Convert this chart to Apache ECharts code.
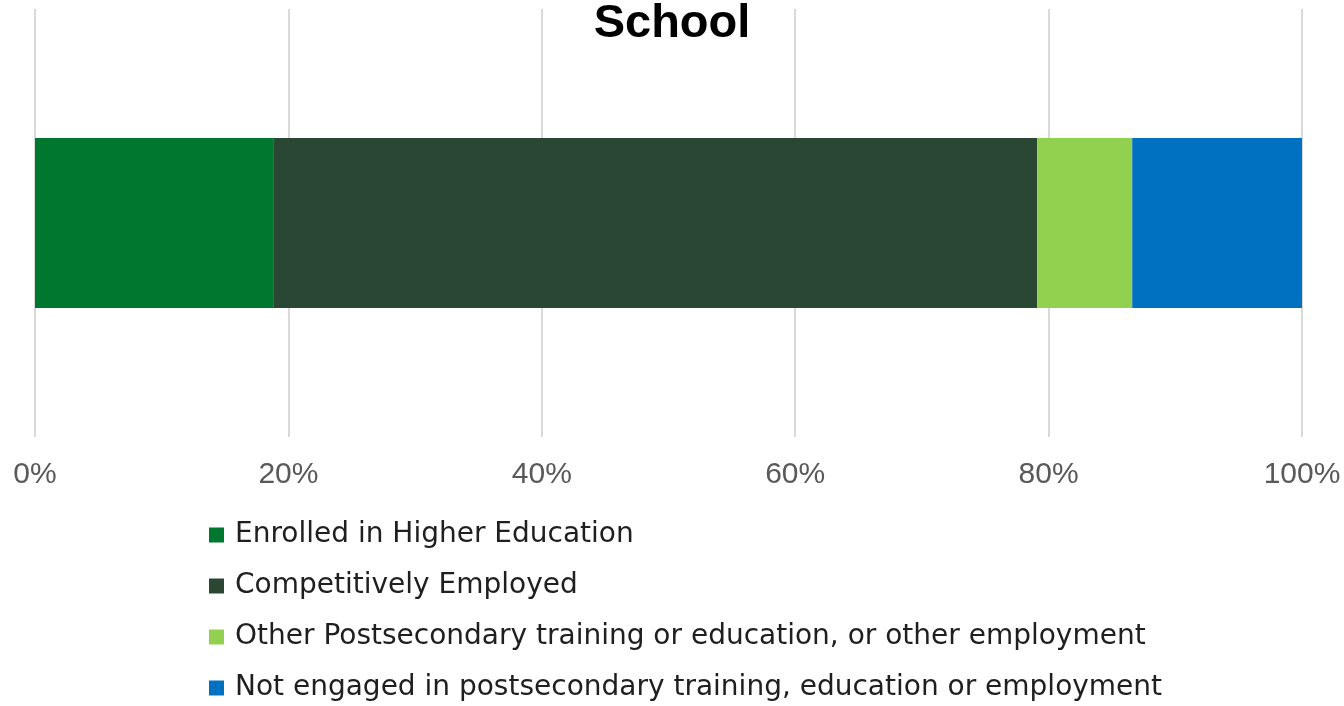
<!DOCTYPE html>
<html>
<head>
<meta charset="utf-8">
<script src="https://cdn.jsdelivr.net/npm/echarts@6/dist/echarts.min.js"></script>
<style>
  html, body { margin: 0; padding: 0; background: #fff; }
  #chart { width: 1344px; height: 706px; }
</style>
</head>
<body>
<div id="chart"></div>
<script>
const categories = ['School'];
const seriesNames = [
  'Enrolled in Higher Education',
  'Competitively Employed',
  'Other Postsecondary training or education, or other employment',
  'Not engaged in postsecondary training, education or employment',
];
const seriesValues = [
  [18.8],
  [60.3],
  [7.5],
  [13.4],
];
const seriesColors = ['#00772F', '#2A4734', '#92D050', '#0070C0'];

const chart = echarts.init(document.getElementById('chart'));

const option = {
  backgroundColor: '#ffffff',
  animation: false,
  title: {
    text: 'School',
    left: 'center',
    top: -4,
    textStyle: {
      fontFamily: 'Liberation Sans, Arial, sans-serif',
      fontSize: 47,
      fontWeight: 'bold',
      color: '#000000',
    },
  },
  legend: {
    orient: 'vertical',
    left: 209,
    top: 520,
    height: 200,
    padding: 0,
    itemWidth: 15,
    itemHeight: 15,
    itemGap: 21,
    icon: 'rect',
    data: seriesNames,
    textStyle: {
      fontFamily: 'DejaVu Sans, sans-serif',
      fontSize: 28,
      lineHeight: 30,
      color: '#1f1f1f',
      padding: [0, 0, 0, 6],
    },
  },
  grid: {
    left: 35,
    right: 42,
    top: 9,
    bottom: 269,
  },
  xAxis: {
    type: 'value',
    min: 0,
    max: 100,
    interval: 20,
    axisLine: { show: false },
    axisTick: { show: false },
    splitLine: { lineStyle: { color: '#d9d9d9', width: 2 } },
    axisLabel: {
      formatter: '{value}%',
      margin: 23,
      fontFamily: 'Liberation Sans, Arial, sans-serif',
      fontSize: 30,
      color: '#595959',
    },
  },
  yAxis: {
    type: 'category',
    data: categories,
    axisLine: { show: false },
    axisTick: { show: false },
    axisLabel: { show: false },
  },
  series: seriesNames.map((name, i) => ({
    name,
    type: 'bar',
    stack: 'total',
    barWidth: 170,
    data: seriesValues[i],
    itemStyle: { color: seriesColors[i] },
  })),
};

chart.setOption(option);
</script>
</body>
</html>
